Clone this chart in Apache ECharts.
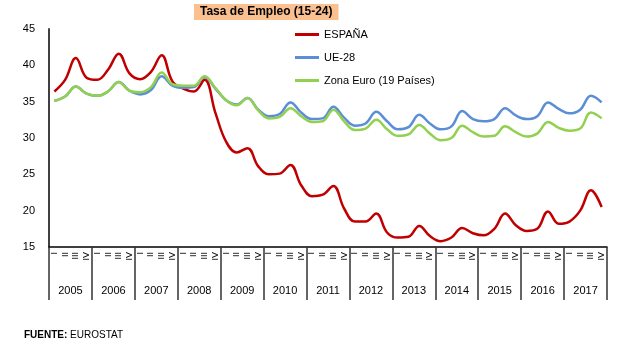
<!DOCTYPE html>
<html>
<head>
<meta charset="utf-8">
<script src="https://cdn.jsdelivr.net/npm/echarts@6/dist/echarts.min.js"></script>
<style>
    html, body { margin: 0; padding: 0; background: #fff; }
    #chart { width: 644px; height: 349px; }
</style>
</head>
<body>
<div id="chart"></div>
<script>
// años y trimestres
const years = ["2005", "2006", "2007", "2008", "2009", "2010", "2011", "2012", "2013", "2014", "2015", "2016", "2017"];
const quarters = ["I", "II", "III", "IV"];

// tasa de empleo 15-24 por trimestre
const espana = [
    36.4, 38.0, 41.0, 38.3,
    38.0, 39.4, 41.6, 38.9,
    38.1, 39.1, 41.4, 37.8,
    36.8, 36.4, 38.0, 33.5,
    29.5, 28.0, 28.6, 26.1,
    25.0, 25.1, 26.3, 23.5,
    22.0, 22.2, 23.4, 20.3,
    18.5, 18.5, 19.6, 17.0,
    16.3, 16.4, 17.9, 16.5,
    15.8, 16.3, 17.6, 16.9,
    16.6, 17.5, 19.6, 18.0,
    17.2, 17.5, 19.9, 18.2,
    18.5, 20.0, 22.8, 20.5
];
const ue28 = [
    35.1, 35.7, 37.1, 36.1,
    35.8, 36.4, 37.7, 36.5,
    36.0, 36.6, 38.5, 37.2,
    36.9, 37.0, 38.4, 36.8,
    35.2, 34.6, 35.5, 33.9,
    33.0, 33.3, 34.9, 33.5,
    32.6, 32.7, 34.3, 32.8,
    31.7, 32.0, 33.6, 32.3,
    31.2, 31.5, 33.2, 32.0,
    31.2, 31.6, 33.7, 32.6,
    32.3, 32.6, 34.1, 33.1,
    32.6, 33.0, 34.9, 34.0,
    33.4, 33.9, 35.8, 34.9
];
const zonaEuro = [
    35.1, 35.7, 37.1, 36.1,
    35.8, 36.4, 37.7, 36.5,
    36.3, 37.0, 39.0, 37.4,
    37.2, 37.2, 38.5, 36.9,
    35.2, 34.5, 35.5, 33.8,
    32.7, 32.9, 34.1, 33.0,
    32.2, 32.3, 33.9, 32.3,
    31.1, 31.3, 32.5, 31.2,
    30.3, 30.5, 31.8, 30.6,
    29.7, 30.0, 31.7, 30.8,
    30.2, 30.3, 31.6, 30.8,
    30.2, 30.6, 32.2, 31.4,
    31.0, 31.3, 33.5, 32.7
];

const font = "'Liberation Sans', Arial, sans-serif";
const quarterLabels = [];
years.forEach(function() {
    quarters.forEach(function(q) {
        quarterLabels.push(q);
    });
});

function lineSeries(name, data, color) {
    return {
        name: name,
        type: "line",
        smooth: 0.4,
        symbol: "none",
        xAxisIndex: 0,
        lineStyle: { width: 2.5, color: color },
        itemStyle: { color: color },
        data: data
    };
}

const chart = echarts.init(document.getElementById("chart"));
chart.setOption({
    animation: false,
    title: {
        text: "Tasa de Empleo (15-24)",
        left: 194,
        top: 4,
        padding: [2, 6, 2, 6],
        backgroundColor: "#FAC090",
        textStyle: { fontFamily: font, fontSize: 12, fontWeight: "bold", color: "#000" }
    },
    legend: {
        orient: "vertical",
        left: 290,
        top: 24,
        icon: "rect",
        itemWidth: 24,
        itemHeight: 3,
        itemGap: 12,
        textStyle: { fontFamily: font, fontSize: 11, color: "#000" },
        data: ["ESPAÑA", "UE-28", "Zona Euro (19 Países)"]
    },
    grid: { left: 49, right: 37, top: 29, bottom: 102 },
    xAxis: [
        {
            type: "category",
            data: quarterLabels,
            boundaryGap: true,
            axisLine: { show: false },
            axisTick: { show: false },
            axisLabel: {
                interval: 0,
                rotate: 90,
                margin: 5,
                fontFamily: font,
                fontSize: 9,
                color: "#000"
            }
        },
        {
            type: "category",
            data: years,
            position: "bottom",
            boundaryGap: true,
            axisLine: { show: true, lineStyle: { color: "#000", width: 1.5 } },
            axisTick: { show: true, interval: 0, length: 53, lineStyle: { color: "#333", width: 1.5 } },
            axisLabel: {
                interval: 0,
                margin: 38,
                fontFamily: font,
                fontSize: 11,
                color: "#000"
            }
        }
    ],
    yAxis: {
        type: "value",
        min: 15,
        max: 45,
        interval: 5,
        splitLine: { show: false },
        axisLine: { show: true, lineStyle: { color: "#404040", width: 2 } },
        axisTick: { show: false },
        axisLabel: { margin: 14, fontFamily: font, fontSize: 11, color: "#000" }
    },
    graphic: [
        {
            type: "text",
            left: 24,
            top: 330,
            style: {
                text: "{b|FUENTE:} EUROSTAT",
                fontFamily: font,
                fontSize: 10,
                fill: "#000",
                rich: { b: { fontFamily: font, fontSize: 10, fontWeight: "bold" } }
            }
        }
    ],
    series: [
        lineSeries("ESPAÑA", espana, "#C00000"),
        lineSeries("UE-28", ue28, "#5B8ED6"),
        lineSeries("Zona Euro (19 Países)", zonaEuro, "#92D050")
    ]
});
</script>
</body>
</html>
